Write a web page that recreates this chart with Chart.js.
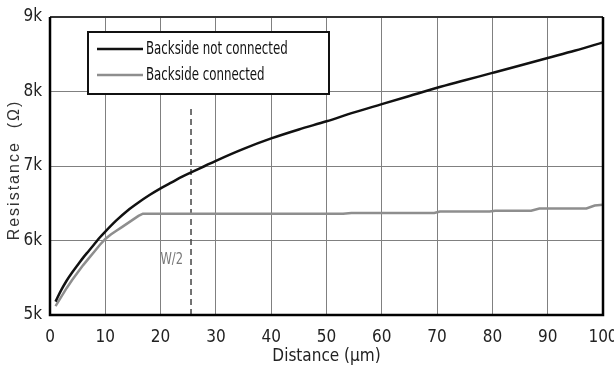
<!DOCTYPE html>
<html>
<head>
<meta charset="utf-8">
<script src="https://cdn.jsdelivr.net/npm/chart.js@4/dist/chart.umd.min.js"></script>
<style>
  html, body { margin: 0; padding: 0; background: #fff; }
  #wrap { width: 614px; height: 370px; position: relative; }
</style>
</head>
<body>
<div id="wrap"><canvas id="c" width="614" height="370"></canvas></div>
<script>
// Resistance versus contact distance, two backside configurations
const distNotConnected = [1, 2, 3, 4, 5, 6, 7, 8, 9, 10, 12, 14, 16, 18, 20, 22, 24, 26, 28, 30, 35, 40, 45, 50, 55, 60, 65, 70, 75, 80, 85, 90, 95, 100];
const resNotConnected  = [5180, 5330, 5460, 5570, 5670, 5770, 5860, 5950, 6040, 6120, 6270, 6400, 6510, 6610, 6700, 6780, 6860, 6930, 7000, 7070, 7230, 7370, 7490, 7600, 7720, 7830, 7940, 8050, 8150, 8250, 8350, 8450, 8550, 8660];

const distConnected = [1, 2, 3, 4, 5, 6, 7, 8, 9, 10, 11, 12, 13, 14, 15, 16, 16.8, 53, 54.5, 69.5, 70.5, 79.5, 80.5, 87, 88.5, 97, 98.5, 100];
const resConnected  = [5120, 5240, 5360, 5470, 5570, 5670, 5760, 5850, 5940, 6020, 6080, 6130, 6180, 6230, 6280, 6330, 6360, 6360, 6370, 6370, 6390, 6390, 6400, 6400, 6430, 6430, 6470, 6480];

// Half-width marker
const halfWidthX = 25.5;
const halfWidthTop = 7820;
const halfWidthLabel = 'W/2';

const xTicks = [0, 10, 20, 30, 40, 50, 60, 70, 80, 90, 100];
const yTicks = [5000, 6000, 7000, 8000, 9000];

const seriesNames = ['Backside not connected', 'Backside connected'];
const seriesColors = ['#111111', '#8e8e8e'];

const narrow = '"Liberation Sans Narrow", "DejaVu Sans Condensed", sans-serif';

// draws text squeezed horizontally by factor sx
function squeezedText(ctx, text, x, y, sx) {
  ctx.save();
  ctx.translate(x, y);
  ctx.scale(sx, 1);
  ctx.fillText(text, 0, 0);
  ctx.restore();
}

const framePlugin = {
  id: 'frame',
  afterDatasetsDraw(chart) {
    const { ctx, chartArea: a, scales } = chart;
    ctx.save();
    // W/2 label
    ctx.fillStyle = '#777';
    ctx.font = '16px ' + narrow;
    ctx.textAlign = 'right';
    ctx.textBaseline = 'middle';
    squeezedText(ctx, halfWidthLabel, scales.x.getPixelForValue(halfWidthX) - 8, scales.y.getPixelForValue(5740), 0.8);
    // plot frame
    ctx.strokeStyle = '#333';
    ctx.lineWidth = 2;
    ctx.beginPath();
    ctx.moveTo(a.left, a.top); ctx.lineTo(a.right, a.top);
    ctx.stroke();
    ctx.strokeStyle = '#000';
    ctx.lineWidth = 2.5;
    ctx.beginPath();
    ctx.moveTo(a.left, a.top); ctx.lineTo(a.left, a.bottom);
    ctx.lineTo(a.right, a.bottom); ctx.lineTo(a.right, a.top);
    ctx.stroke();
    // legend box
    const bx = 88, by = 32, bw = 241, bh = 62;
    ctx.fillStyle = '#fff';
    ctx.fillRect(bx, by, bw, bh);
    ctx.strokeStyle = '#111';
    ctx.lineWidth = 2;
    ctx.strokeRect(bx, by, bw, bh);
    ctx.font = '18px ' + narrow;
    ctx.textAlign = 'left';
    ctx.textBaseline = 'middle';
    const rows = [49, 75];
    for (let i = 0; i < 2; i++) {
      ctx.strokeStyle = seriesColors[i];
      ctx.lineWidth = 2.5;
      ctx.beginPath();
      ctx.moveTo(97, rows[i]); ctx.lineTo(143, rows[i]);
      ctx.stroke();
      ctx.fillStyle = '#111';
      squeezedText(ctx, seriesNames[i], 146, rows[i], 0.73);
    }
    // y axis title, letter-spaced
    ctx.translate(15, (a.top + a.bottom) / 2 + 4);
    ctx.rotate(-Math.PI / 2);
    ctx.letterSpacing = '2px';
    ctx.font = '16px "Liberation Sans", Arial, sans-serif';
    ctx.fillStyle = '#333';
    ctx.textAlign = 'center';
    ctx.fillText('Resistance  (Ω)', 0, 0);
    ctx.restore();
  }
};

new Chart(document.getElementById('c'), {
  type: 'line',
  data: {
    datasets: [
      {
        label: seriesNames[0],
        data: distNotConnected.map((x, i) => ({ x, y: resNotConnected[i] })),
        borderColor: seriesColors[0],
        borderWidth: 2.5,
        pointRadius: 0,
        cubicInterpolationMode: 'monotone',
        fill: false
      },
      {
        label: seriesNames[1],
        data: distConnected.map((x, i) => ({ x, y: resConnected[i] })),
        borderColor: seriesColors[1],
        borderWidth: 2.5,
        pointRadius: 0,
        tension: 0,
        fill: false
      },
      {
        label: halfWidthLabel,
        data: [{ x: halfWidthX, y: 5000 }, { x: halfWidthX, y: halfWidthTop }],
        borderColor: '#444',
        borderWidth: 1.5,
        borderDash: [6, 4],
        pointRadius: 0,
        fill: false
      }
    ]
  },
  options: {
    responsive: false,
    animation: false,
    layout: { padding: { left: 0, right: 11, top: 17, bottom: 0 } },
    plugins: { legend: { display: false }, tooltip: { enabled: false } },
    scales: {
      x: {
        type: 'linear',
        min: 0, max: 100,
        afterBuildTicks: s => { s.ticks = xTicks.map(v => ({ value: v })); },
        afterFit: s => { s.height = 55; s.paddingLeft = 0; s.paddingRight = 0; },
        grid: { color: '#808080', lineWidth: 1, drawTicks: false },
        border: { display: false },
        ticks: { color: '#222', font: { family: narrow, size: 17 }, padding: 12, maxRotation: 0 },
        title: { display: true, text: 'Distance (µm)', color: '#222', font: { family: narrow, size: 17 }, padding: { top: 0, bottom: 3 } }
      },
      y: {
        min: 5000, max: 9000,
        afterBuildTicks: s => { s.ticks = yTicks.map(v => ({ value: v })); },
        afterFit: s => { s.width = 50; s.paddingTop = 0; s.paddingBottom = 0; },
        grid: { color: '#808080', lineWidth: 1, drawTicks: false },
        border: { display: false },
        ticks: { color: '#222', font: { family: narrow, size: 17 }, padding: 8, callback: v => (v / 1000) + 'k' },
        title: { display: false }
      }
    }
  },
  plugins: [framePlugin]
});
</script>
</body>
</html>
